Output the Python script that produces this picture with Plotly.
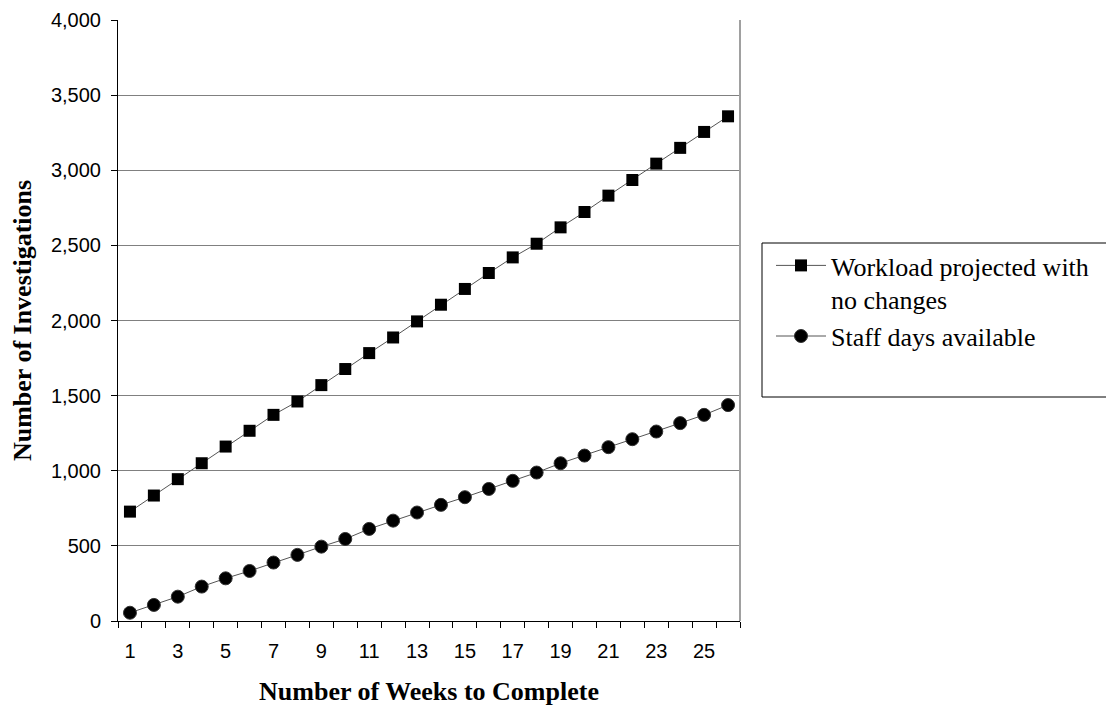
import plotly.graph_objects as go

weeks = list(range(1, 27))
workload = [728, 835, 944, 1050, 1161, 1266, 1372, 1461, 1570, 1677, 1783, 1887, 1994,
            2105, 2210, 2316, 2420, 2511, 2620, 2722, 2831, 2935, 3044, 3149, 3255, 3359]
staff = [55, 107, 162, 229, 284, 333, 389, 440, 495, 546, 613, 668, 722,
         773, 824, 879, 933, 988, 1050, 1101, 1157, 1210, 1261, 1317, 1372, 1437]
x_tick_vals = list(range(1, 27, 2))
y_tick_vals = list(range(0, 4001, 500))

serif = "Liberation Serif, Times New Roman, serif"
sans = "Liberation Sans, Arial, sans-serif"

L, T, PW, PH = 110, 12, 622, 601
W, H = 1114, 710

fig = go.Figure()
fig.add_trace(go.Scatter(
    x=weeks, y=workload, mode="lines+markers",
    name="Workload projected with<br>no changes",
    line=dict(color="#555555", width=1),
    marker=dict(symbol="square", size=12, color="black"),
))
fig.add_trace(go.Scatter(
    x=weeks, y=staff, mode="lines+markers",
    name="Staff days available",
    line=dict(color="#555555", width=1),
    marker=dict(symbol="circle", size=13, color="black",
                line=dict(color="#333333", width=1)),
))

fig.update_layout(
    width=W, height=H,
    margin=dict(l=L, r=W - L - PW, t=T, b=H - T - PH, autoexpand=False),
    paper_bgcolor="white", plot_bgcolor="white",
    showlegend=True,
    legend=dict(
        x=(771 - 118) / PW, y=(621 - 242) / PH, xanchor="left", yanchor="top",
        font=dict(family=serif, size=26, color="black"),
        bgcolor="rgba(0,0,0,0)", borderwidth=0,
        itemwidth=50, tracegroupgap=9, valign="top",
    ),
    xaxis=dict(
        range=[0.5, 26.5], showgrid=False, zeroline=False, automargin=False,
        showline=True, linecolor="black", linewidth=1,
        tickvals=x_tick_vals, ticktext=[str(v) for v in x_tick_vals],
        ticks="", ticklabelstandoff=12,
        tickfont=dict(family=sans, size=20, color="black"),
        minor=dict(tickvals=[w - 0.5 for w in weeks] + [26.5], ticks="outside",
                   ticklen=6, tickcolor="black", showgrid=False),
        title=dict(text="<b>Number of Weeks to Complete</b>",
                   font=dict(family=serif, size=26, color="black"), standoff=20),
    ),
    yaxis=dict(
        range=[0, 4000], tickvals=y_tick_vals, tickformat=",", automargin=False,
        showgrid=True, gridcolor="#808080", gridwidth=1, zeroline=False,
        showline=True, linecolor="black", linewidth=1,
        ticks="outside", ticklen=6, tickcolor="black", ticklabelstandoff=6,
        tickfont=dict(family=sans, size=20, color="black"),
        title=dict(text="<b>Number of Investigations</b>",
                   font=dict(family=serif, size=26, color="black"), standoff=28),
    ),
    shapes=[
        dict(type="line", xref="paper", yref="paper", x0=1, x1=1, y0=0, y1=1,
             line=dict(color="#a0a0a0", width=2)),
        dict(type="rect", xref="paper", yref="paper",
             x0=(762 - 118) / PW, x1=(1130 - 118) / PW,
             y0=(621 - 397) / PH, y1=(621 - 243) / PH,
             line=dict(color="black", width=1)),
    ],
)

fig.write_html("out.html")
